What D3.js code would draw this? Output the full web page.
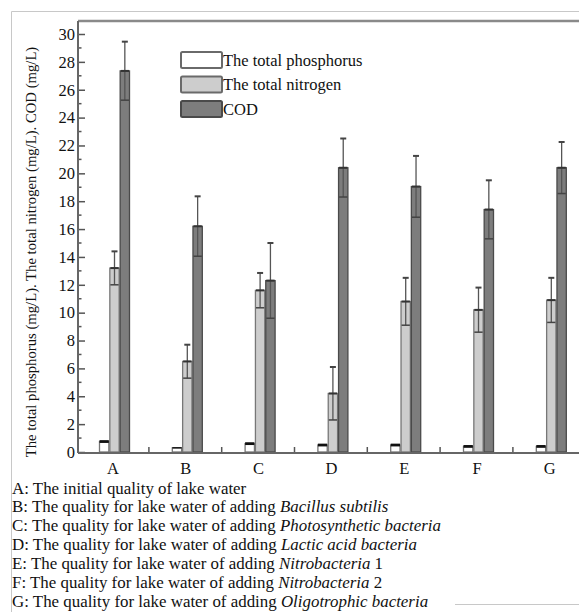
<!DOCTYPE html>
<html>
<head>
<meta charset="utf-8">
<script src="https://cdn.jsdelivr.net/npm/d3@7"></script>
<style>
  body { margin: 0; background: #fff; }
  svg { font-family: "Liberation Serif", "Times New Roman", serif; }
</style>
</head>
<body>
<div id="chart"></div>
<script>

var groups = ["A", "B", "C", "D", "E", "F", "G"];
var seriesNames = ["The total phosphorus", "The total nitrogen", "COD"];

var phosphorus = [0.75, 0.3, 0.6, 0.5, 0.5, 0.4, 0.4];
var phosphorusErr = [0.1, 0.05, 0.1, 0.1, 0.1, 0.1, 0.1];
var nitrogen = [13.2, 6.5, 11.6, 4.2, 10.8, 10.2, 10.9];
var nitrogenErr = [1.2, 1.2, 1.25, 1.9, 1.7, 1.6, 1.6];
var cod = [27.35, 16.2, 12.3, 20.4, 19.05, 17.4, 20.4];
var codErr = [2.1, 2.15, 2.7, 2.1, 2.2, 2.1, 1.85];

var yTicks = [0, 2, 4, 6, 8, 10, 12, 14, 16, 18, 20, 22, 24, 26, 28, 30];

var captions = [
    ["A: The initial quality of lake water", ""],
    ["B: The quality for lake water of adding ", "Bacillus subtilis"],
    ["C: The quality for lake water of adding ", "Photosynthetic bacteria"],
    ["D: The quality for lake water of adding ", "Lactic acid bacteria"],
    ["E: The quality for lake water of adding ", "Nitrobacteria", " 1"],
    ["F: The quality for lake water of adding ", "Nitrobacteria", " 2"],
    ["G: The quality for lake water of adding ", "Oligotrophic bacteria"]
];

var fills = ["#ffffff", "#cdcdcd", "#7d7d7d"];
var strokes = ["#777", "#777", "#4a4a4a"];

var width = 579, height = 612;
var plotLeft = 78, plotTop = 21, plotBottom = 453;

var svg = d3.select("#chart").append("svg")
    .attr("width", width)
    .attr("height", height);

// outer light frame
svg.append("path")
    .attr("d", "M579,11.5 H11.5 V612")
    .attr("fill", "none")
    .attr("stroke", "#c8c8c8");
svg.append("line")
    .attr("x1", 455).attr("x2", 579)
    .attr("y1", 604.5).attr("y2", 604.5)
    .attr("stroke", "#c8c8c8");

var y = d3.scaleLinear().domain([0, 30]).range([452, 34]);

var x0 = d3.scaleBand().domain(groups).range([76.6, 76.6 + 72.8 * 7]).padding(0);
var x1 = d3.scaleBand().domain([0, 1, 2]).range([-14, 17]).padding(0);

// plot frame top
svg.append("line")
    .attr("x1", plotLeft).attr("x2", width)
    .attr("y1", plotTop).attr("y2", plotTop)
    .attr("stroke", "#8a8a8a").attr("stroke-width", 2.5);

// group boundary ticks
svg.append("g").selectAll("line")
    .data(groups.slice(1))
    .enter().append("line")
    .attr("x1", function(d){ return x0(d) - 0.5; })
    .attr("x2", function(d){ return x0(d) - 0.5; })
    .attr("y1", plotBottom).attr("y2", plotBottom - 6)
    .attr("stroke", "#555").attr("stroke-width", 1.5);

// bars
var data = [];
groups.forEach(function(g, i) {
    [phosphorus, nitrogen, cod].forEach(function(s, j) {
        var errs = [phosphorusErr, nitrogenErr, codErr][j];
        data.push({group: g, k: j, v: s[i], e: errs[i]});
    });
});

var bars = svg.append("g").selectAll("g")
    .data(data)
    .enter().append("g")
    .attr("transform", function(d){ return "translate(" + (x0(d.group) + x0.bandwidth()/2 + x1(d.k)) + ",0)"; });

bars.append("rect")
    .attr("x", 0.5)
    .attr("width", x1.bandwidth() - 1)
    .attr("y", function(d){ return y(d.v); })
    .attr("height", function(d){ return y(0) - y(d.v); })
    .attr("fill", function(d){ return fills[d.k]; })
    .attr("stroke", function(d){ return strokes[d.k]; })
    .attr("stroke-width", 1.3);

// thick dark top on phosphorus bars
bars.filter(function(d){ return d.k === 0; })
    .append("rect")
    .attr("x", 0.5)
    .attr("width", x1.bandwidth() - 1)
    .attr("y", function(d){ return y(d.v + d.e); })
    .attr("height", function(d){ return y(d.v - d.e) - y(d.v + d.e); })
    .attr("fill", "#111");

var eb = bars.filter(function(d){ return d.k > 0; });
var bw = x1.bandwidth();

eb.append("line")
    .attr("x1", bw/2).attr("x2", bw/2)
    .attr("y1", function(d){ return y(d.v + d.e); })
    .attr("y2", function(d){ return y(d.v - d.e); })
    .attr("stroke", "#555").attr("stroke-width", 1.3);
eb.append("line")
    .attr("x1", bw/2 - 3).attr("x2", bw/2 + 3)
    .attr("y1", function(d){ return y(d.v + d.e); })
    .attr("y2", function(d){ return y(d.v + d.e); })
    .attr("stroke", "#444").attr("stroke-width", 2);
eb.append("line")
    .attr("x1", 1).attr("x2", bw - 1)
    .attr("y1", function(d){ return y(d.v - d.e); })
    .attr("y2", function(d){ return y(d.v - d.e); })
    .attr("stroke", "#444").attr("stroke-width", 1.5);
eb.append("line")
    .attr("x1", 1).attr("x2", bw - 1)
    .attr("y1", function(d){ return y(d.v); })
    .attr("y2", function(d){ return y(d.v); })
    .attr("stroke", "#333").attr("stroke-width", 2);

// axes
var yAxis = d3.axisLeft(y).tickValues(yTicks).tickSize(-7).tickPadding(3)
    .tickFormat(d3.format("d"));
var gy = svg.append("g")
    .attr("transform", "translate(" + plotLeft + ",0)")
    .call(yAxis);
gy.select(".domain").remove();
gy.selectAll(".tick line").attr("stroke", "#555").attr("stroke-width", 1.5);
gy.selectAll(".tick text")
    .attr("font-size", "16.5px")
    .attr("font-family", "Liberation Serif")
    .attr("fill", "#111");

var minorTicks = d3.range(1, 30, 2);
svg.append("g").selectAll("line")
    .data(minorTicks)
    .enter().append("line")
    .attr("x1", plotLeft).attr("x2", plotLeft + 3.5)
    .attr("y1", function(d){ return y(d); })
    .attr("y2", function(d){ return y(d); })
    .attr("stroke", "#555").attr("stroke-width", 1.5);

svg.append("line")
    .attr("x1", plotLeft).attr("x2", plotLeft)
    .attr("y1", plotTop).attr("y2", plotBottom)
    .attr("stroke", "#666").attr("stroke-width", 2);
svg.append("line")
    .attr("x1", plotLeft).attr("x2", width)
    .attr("y1", plotBottom).attr("y2", plotBottom)
    .attr("stroke", "#666").attr("stroke-width", 2);

var gx = svg.append("g")
    .attr("transform", "translate(0," + plotBottom + ")")
    .call(d3.axisBottom(x0).tickSize(0).tickPadding(9));
gx.select(".domain").remove();
gx.selectAll(".tick text")
    .attr("font-size", "16.5px")
    .attr("font-family", "Liberation Serif")
    .attr("fill", "#111");

// y title
svg.append("text")
    .attr("transform", "translate(36,252) rotate(-90)")
    .attr("text-anchor", "middle")
    .attr("font-size", "14.7px")
    .attr("fill", "#111")
    .text("The total phosphorus (mg/L). The total nitrogen (mg/L). COD (mg/L)");

// legend
var legend = svg.append("g").selectAll("g")
    .data(seriesNames)
    .enter().append("g")
    .attr("transform", function(d, i){ return "translate(180," + (51 + i * 24.5) + ")"; });
legend.append("rect")
    .attr("x", 1).attr("y", 1)
    .attr("width", 41).attr("height", 16)
    .attr("rx", 1.5)
    .attr("fill", function(d, i){ return fills[i]; })
    .attr("stroke", function(d, i){ return i === 2 ? "#4a4a4a" : "#6a6a6a"; })
    .attr("stroke-width", 2);
legend.append("text")
    .attr("x", 43).attr("y", 14.5)
    .attr("font-size", "16.5px")
    .attr("fill", "#111")
    .text(function(d){ return d; });

// captions
var cap = svg.append("g").selectAll("text")
    .data(captions)
    .enter().append("text")
    .attr("x", 12)
    .attr("y", function(d, i){ return 493.5 + i * 18.85; })
    .attr("font-size", "16.9px")
    .attr("fill", "#111");
cap.append("tspan").text(function(d){ return d[0]; });
cap.append("tspan").attr("font-style", "italic").text(function(d){ return d[1]; });
cap.append("tspan").text(function(d){ return d[2] || ""; });

</script>
</body>
</html>
